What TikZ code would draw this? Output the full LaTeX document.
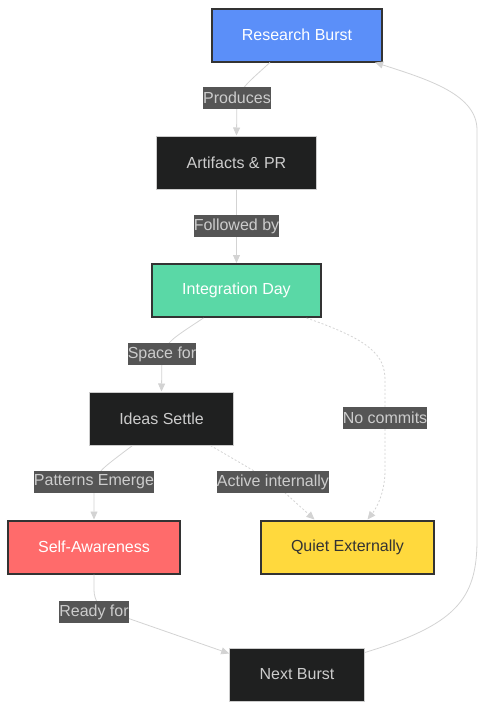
\documentclass[tikz,border=0pt]{standalone}
\usepackage{fontspec}
\setmainfont{Liberation Sans}
\usetikzlibrary{arrows.meta}
\definecolor{cblue}{HTML}{5B8FF9}
\definecolor{cgreen}{HTML}{5AD8A6}
\definecolor{cred}{HTML}{FF6B6B}
\definecolor{cyellow}{HTML}{FFD93D}
\definecolor{cdark}{HTML}{1F2020}
\definecolor{cline}{HTML}{D3D3D3}
\definecolor{clbl}{HTML}{555555}
\definecolor{ctxt}{HTML}{CCCCCC}
\begin{document}
\begin{tikzpicture}[x=1pt,y=-1pt,
    font=\fontsize{16}{19}\selectfont,
    box/.style={draw=black!80, line width=2pt, minimum height=53pt, inner xsep=30pt, text=white},
    dbox/.style={draw=ctxt, line width=1pt, fill=cdark, minimum height=53pt, inner xsep=30pt, text=ctxt},
    lbl/.style={fill=clbl, text=ctxt, inner xsep=0pt, minimum height=22pt},
    edge/.style={draw=cline, line width=0.8pt, -{Triangle[length=8pt,width=7pt]}},
    dots/.style={edge, dash pattern=on 2pt off 2pt}]
    \useasboundingbox (0,0) rectangle (486,710);
    % nodes
    \node[box, fill=cblue] (rb) at (297,35) {Research Burst};
    \node[dbox] (ap) at (236.5,162.5) {Artifacts \& PR};
    \node[box, fill=cgreen] (id) at (236.5,290.5) {Integration Day};
    \node[dbox] (is) at (161.5,418.5) {Ideas Settle};
    \node[box, fill=cred] (sa) at (94,547) {Self-Awareness};
    \node[box, fill=cyellow, text=black!80] (qe) at (347.5,547) {Quiet Externally};
    \node[dbox] (nb) at (297,674.5) {Next Burst};
    % edges
    \draw[edge] ([xshift=-27pt]rb.south) .. controls (245,85) .. (237,98) node[lbl] (l1) {Produces} -- (ap.north);
    \draw[edge] (ap) -- (id) node[lbl, midway] (l2) {Followed by};
    \draw[edge] ([xshift=-33pt]id.south) .. controls (170,340) .. (162,354) node[lbl] (l3) {Space for} -- (is.north);
    \draw[dots] ([xshift=70pt]id.south) .. controls (370,340) and (385,355) .. (385,380) -- (385,418) node[lbl] (l4) {No commits}
        -- (385,470) .. controls (385,495) and (375,510) .. ([xshift=20pt]qe.north);
    \draw[edge] ([xshift=-29pt]is.south) .. controls (100,470) .. (94,482) node[lbl] (l5) {Patterns Emerge} -- (sa.north);
    \draw[dots] ([xshift=49pt]is.south) -- (273,482) node[lbl] (l6) {Active internally} -- ([xshift=-33pt]qe.north);
    \draw[edge] (sa.south) -- (94,590) .. controls (94,600) and (100,610) .. (110,612) node[lbl, xshift=-16pt] (l7) {Ready for}
        -- ([yshift=-6pt]nb.north west);
    \draw[edge] ([yshift=-5pt]nb.north east) .. controls (455,625) and (477,600) .. (477,540) -- (477,130)
        .. controls (477,95) and (430,80) .. ([xshift=-8pt]rb.south east);
\end{tikzpicture}
\end{document}
